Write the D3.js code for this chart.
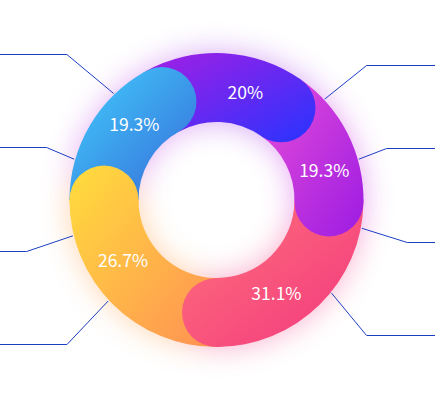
<!DOCTYPE html>
<html><head><meta charset="utf-8">
<script src="https://cdn.jsdelivr.net/npm/d3@7"></script>
<style>html,body{margin:0;padding:0;background:#fff;overflow:hidden}</style>
</head><body><svg id="c" width="435" height="394"></svg>
<script>
// ---- data ----
const categories = ["s1", "s2", "s3", "s4", "s5"];
const values = [20, 19.3, 31.1, 26.7, 19.3];           // shown as percent labels
const arcShares = [64, 56, 89, 90, 61];                // drawn arc sizes (degrees)
const colorFrom = ["#A41FE4", "#E84ED8", "#FF737A", "#FFDD3C", "#42D0FD"];
const colorTo   = ["#2833FF", "#9C1CE3", "#F2377F", "#FF9054", "#3668D8"];
const shadowColors = ["#A43CEA", "#CC3EE2", "#F24C8C", "#FFA04C", "#C452E8"];
const leaderAngles = [47, 74, 101, 129, 227, 256, 286, 316];          // where lines leave the ring
const elbowAngles  = [48, 73, 102.5, 132, 226, 255, 287.2, 314.3];
const elbowReach   = [1.374, 1.210, 1.329, 1.374, 1.414, 1.337, 1.210, 1.422];

// ---- layout ----
const W = 435, H = 394;
const cx = 216.5, cy = 200, R = 147, R0 = 78;
const midR = (R + R0) / 2, capR = (R - R0) / 2;
const rad = d => d * Math.PI / 180;
const startDeg = -29;

const svg = d3.select("#c");
const defs = svg.append("defs");
const f = defs.append("filter").attr("id", "glow")
  .attr("x", "-50%").attr("y", "-50%").attr("width", "200%").attr("height", "200%");
f.append("feGaussianBlur").attr("in", "SourceGraphic").attr("stdDeviation", 15);

const pie = d3.pie().sort(null).value(d => d)
  .startAngle(rad(startDeg)).endAngle(rad(startDeg + 360));
const arcs = pie(arcShares);
const arcGen = d3.arc().innerRadius(R0).outerRadius(R);

const g = svg.append("g").attr("transform", `translate(${cx},${cy})`);
const glow = g.append("g").attr("filter", "url(#glow)").attr("opacity", 0.45);
const glowBodies = glow.append("g"), glowCaps = glow.append("g");
const ring = g.append("g");
const bodies = ring.append("g");
const caps = ring.append("g");

arcs.forEach((a, i) => {
  const capX = Math.sin(a.endAngle) * midR, capY = -Math.cos(a.endAngle) * midR;
  const tmp = g.append("g");
  tmp.append("path").attr("d", arcGen(a));
  tmp.append("circle").attr("cx", capX).attr("cy", capY).attr("r", capR);
  const bb = tmp.node().getBBox();
  tmp.remove();
  const gr = defs.append("linearGradient").attr("id", "gr" + i)
    .attr("gradientUnits", "userSpaceOnUse")
    .attr("gradientTransform", `matrix(${bb.width},0,0,${bb.height},${bb.x},${bb.y})`)
    .attr("x1", 0).attr("y1", 0).attr("x2", 1).attr("y2", 1);
  gr.append("stop").attr("offset", 0).attr("stop-color", colorFrom[i]);
  gr.append("stop").attr("offset", 1).attr("stop-color", colorTo[i]);
  glowBodies.append("path").attr("d", arcGen(a)).attr("fill", shadowColors[i]);
  glowCaps.append("circle").attr("cx", capX).attr("cy", capY).attr("r", capR).attr("fill", shadowColors[i]);
  bodies.append("path").attr("d", arcGen(a)).attr("fill", `url(#gr${i})`);
  caps.append("circle").attr("cx", capX).attr("cy", capY).attr("r", capR).attr("fill", `url(#gr${i})`);
});

// leader lines
leaderAngles.forEach((deg, i) => {
  const a = rad(deg), e = rad(elbowAngles[i]);
  const x1 = Math.sin(a) * (R + 1), y1 = -Math.cos(a) * (R + 1);
  const x2 = Math.sin(e) * R * elbowReach[i];
  const y2 = Math.round(cy - Math.cos(e) * R * elbowReach[i]) + 0.5 - cy;
  const xe = Math.sin(a) > 0 ? W - cx : -cx;
  g.append("path")
    .attr("d", `M${x1},${y1}L${x2},${y2}L${xe},${y2}`)
    .attr("fill", "none").attr("stroke", "#1C3FC4").attr("stroke-width", 1);
});

// labels
const labelShift = rad(12);
arcs.forEach((a, i) => {
  const ang = (a.startAngle + a.endAngle) / 2 + labelShift;
  g.append("text")
    .attr("x", Math.sin(ang) * (midR - 1))
    .attr("y", -Math.cos(ang) * (midR - 1))
    .attr("dy", "0.36em")
    .attr("text-anchor", "middle")
    .attr("fill", "#fff")
    .attr("font-family", "'Noto Sans CJK SC', 'Noto Sans', sans-serif")
    .attr("font-size", 17.5)
    .text(values[i] + "%");
});
</script>
</body></html>
